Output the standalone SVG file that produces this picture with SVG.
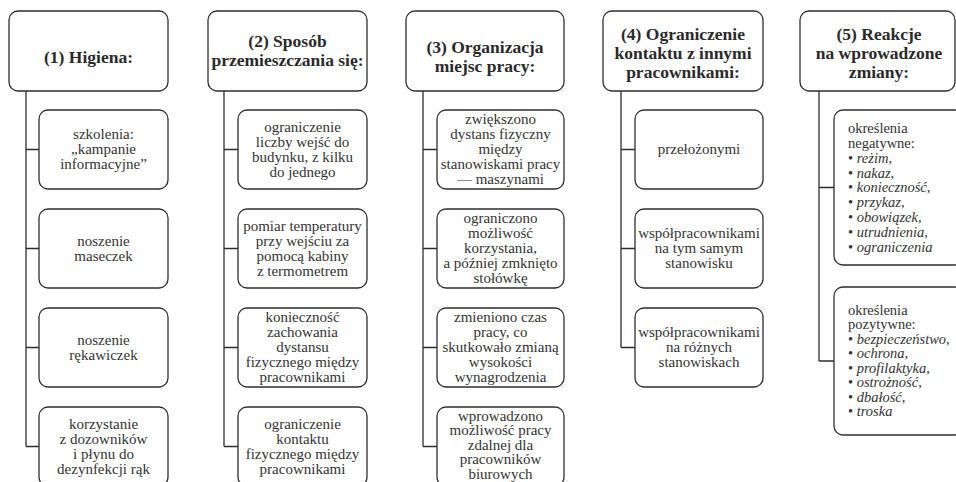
<svg xmlns="http://www.w3.org/2000/svg" width="956" height="482" viewBox="0 0 956 482">
<style>
.box{fill:#fff;stroke:#2e2e2e;stroke-width:1.3}
.conn{fill:none;stroke:#2e2e2e;stroke-width:1.3}
.h{font-family:"Liberation Serif","Times New Roman","DejaVu Serif",serif;font-weight:bold;font-size:17.5px;fill:#2a2a2a;text-anchor:middle}
.t{font-family:"Liberation Serif","Times New Roman","DejaVu Serif",serif;font-size:15px;fill:#333;text-anchor:middle}
.l{font-family:"Liberation Serif","Times New Roman","DejaVu Serif",serif;font-size:14.5px;fill:#333;text-anchor:start}
.i{font-style:italic}
</style>
<rect width="956" height="482" fill="#fff"/>
<g id="connectors">
<path class="conn" d="M26,91V446.5M26,149.5H39M26,248.5H39M26,347.5H39M26,446.5H39"/>
<path class="conn" d="M224,91V446.5M224,149.5H238M224,248.5H238M224,347.5H238M224,446.5H238"/>
<path class="conn" d="M423,91V446.5M423,149.5H437M423,248.5H437M423,347.5H437M423,446.5H437"/>
<path class="conn" d="M621,91V347.5M621,149.5H635M621,248.5H635M621,347.5H635"/>
<path class="conn" d="M819,91V361M819,187.5H834M819,361H834"/>
</g>
<g id="h1"><rect class="box" x="9" y="11" width="159" height="80" rx="9"/><text class="h" x="88.5" y="63">(1) Higiena:</text></g>
<g id="c1n1"><rect class="box" x="39" y="110" width="129" height="79" rx="9"/><text class="t"><tspan x="103.5" y="139">szkolenia:</tspan><tspan x="103.5" y="154">„kampanie</tspan><tspan x="103.5" y="169">informacyjne”</tspan></text></g>
<g id="c1n2"><rect class="box" x="39" y="209" width="129" height="79" rx="9"/><text class="t"><tspan x="103.5" y="245.5">noszenie</tspan><tspan x="103.5" y="260.5">maseczek</tspan></text></g>
<g id="c1n3"><rect class="box" x="39" y="308" width="129" height="79" rx="9"/><text class="t"><tspan x="103.5" y="344.5">noszenie</tspan><tspan x="103.5" y="359.5">rękawiczek</tspan></text></g>
<g id="c1n4"><rect class="box" x="39" y="407" width="129" height="79" rx="9"/><text class="t"><tspan x="103.5" y="428.5">korzystanie</tspan><tspan x="103.5" y="443.5">z dozowników</tspan><tspan x="103.5" y="458.5">i płynu do</tspan><tspan x="103.5" y="473.5">dezynfekcji rąk</tspan></text></g>

<g id="h2"><rect class="box" x="208" y="11" width="159" height="80" rx="9"/><text class="h"><tspan x="287.5" y="47">(2) Sposób</tspan><tspan x="287.5" y="66">przemieszczania się:</tspan></text></g>
<g id="c2n1"><rect class="box" x="238" y="110" width="129" height="79" rx="9"/><text class="t"><tspan x="302.5" y="131.5">ograniczenie</tspan><tspan x="302.5" y="146.5">liczby wejść do</tspan><tspan x="302.5" y="161.5">budynku, z kilku</tspan><tspan x="302.5" y="176.5">do jednego</tspan></text></g>
<g id="c2n2"><rect class="box" x="238" y="209" width="129" height="79" rx="9"/><text class="t"><tspan x="302.5" y="230.5">pomiar temperatury</tspan><tspan x="302.5" y="245.5">przy wejściu za</tspan><tspan x="302.5" y="260.5">pomocą kabiny</tspan><tspan x="302.5" y="275.5">z termometrem</tspan></text></g>
<g id="c2n3"><rect class="box" x="238" y="308" width="129" height="79" rx="9"/><text class="t"><tspan x="302.5" y="322">konieczność</tspan><tspan x="302.5" y="337">zachowania</tspan><tspan x="302.5" y="352">dystansu</tspan><tspan x="302.5" y="367">fizycznego między</tspan><tspan x="302.5" y="382">pracownikami</tspan></text></g>
<g id="c2n4"><rect class="box" x="238" y="407" width="129" height="79" rx="9"/><text class="t"><tspan x="302.5" y="428.5">ograniczenie</tspan><tspan x="302.5" y="443.5">kontaktu</tspan><tspan x="302.5" y="458.5">fizycznego między</tspan><tspan x="302.5" y="473.5">pracownikami</tspan></text></g>

<g id="h3"><rect class="box" x="406" y="11" width="158" height="80" rx="9"/><text class="h"><tspan x="485" y="52.5">(3) Organizacja</tspan><tspan x="485" y="71.5">miejsc pracy:</tspan></text></g>
<g id="c3n1"><rect class="box" x="437" y="110" width="127" height="79" rx="9"/><text class="t"><tspan x="500.5" y="124">zwiększono</tspan><tspan x="500.5" y="139">dystans fizyczny</tspan><tspan x="500.5" y="154">między</tspan><tspan x="500.5" y="169">stanowiskami pracy</tspan><tspan x="500.5" y="184">— maszynami</tspan></text></g>
<g id="c3n2"><rect class="box" x="437" y="209" width="127" height="79" rx="9"/><text class="t"><tspan x="500.5" y="223">ograniczono</tspan><tspan x="500.5" y="238">możliwość</tspan><tspan x="500.5" y="253">korzystania,</tspan><tspan x="500.5" y="268">a później zmknięto</tspan><tspan x="500.5" y="283">stołówkę</tspan></text></g>
<g id="c3n3"><rect class="box" x="437" y="308" width="127" height="79" rx="9"/><text class="t"><tspan x="500.5" y="322">zmieniono czas</tspan><tspan x="500.5" y="337">pracy, co</tspan><tspan x="500.5" y="352">skutkowało zmianą</tspan><tspan x="500.5" y="367">wysokości</tspan><tspan x="500.5" y="382">wynagrodzenia</tspan></text></g>
<g id="c3n4"><rect class="box" x="437" y="407" width="127" height="79" rx="9"/><text class="t"><tspan x="500.5" y="420.5">wprowadzono</tspan><tspan x="500.5" y="435">możliwość pracy</tspan><tspan x="500.5" y="449.5">zdalnej dla</tspan><tspan x="500.5" y="464">pracowników</tspan><tspan x="500.5" y="478.5">biurowych</tspan></text></g>

<g id="h4"><rect class="box" x="603" y="11" width="160" height="80" rx="9"/><text class="h"><tspan x="683" y="40">(4) Ograniczenie</tspan><tspan x="683" y="59">kontaktu z innymi</tspan><tspan x="683" y="78">pracownikami:</tspan></text></g>
<g id="c4n1"><rect class="box" x="635" y="110" width="128" height="79" rx="9"/><text class="t"><tspan x="699" y="154">przełożonymi</tspan></text></g>
<g id="c4n2"><rect class="box" x="635" y="209" width="128" height="79" rx="9"/><text class="t"><tspan x="699" y="238">współpracownikami</tspan><tspan x="699" y="253">na tym samym</tspan><tspan x="699" y="268">stanowisku</tspan></text></g>
<g id="c4n3"><rect class="box" x="635" y="308" width="128" height="79" rx="9"/><text class="t"><tspan x="699" y="337">współpracownikami</tspan><tspan x="699" y="352">na różnych</tspan><tspan x="699" y="367">stanowiskach</tspan></text></g>

<g id="h5"><rect class="box" x="800" y="11" width="155" height="80" rx="9"/><text class="h"><tspan x="879" y="39.5">(5) Reakcje</tspan><tspan x="879" y="58.5">na wprowadzone</tspan><tspan x="879" y="77.5">zmiany:</tspan></text></g>
<g id="c5n1"><rect class="box" x="834" y="110" width="130" height="155" rx="9"/><text class="l"><tspan x="848" y="133">określenia</tspan><tspan x="848" y="147.9">negatywne:</tspan><tspan x="848" y="162.7">• <tspan class="i">reżim,</tspan></tspan><tspan x="848" y="177.6">• <tspan class="i">nakaz,</tspan></tspan><tspan x="848" y="192.4">• <tspan class="i">konieczność,</tspan></tspan><tspan x="848" y="207.3">• <tspan class="i">przykaz,</tspan></tspan><tspan x="848" y="222.1">• <tspan class="i">obowiązek,</tspan></tspan><tspan x="848" y="237">• <tspan class="i">utrudnienia,</tspan></tspan><tspan x="848" y="251.8">• <tspan class="i">ograniczenia</tspan></tspan></text></g>
<g id="c5n2"><rect class="box" x="834" y="287" width="130" height="148" rx="9"/><text class="l"><tspan x="848" y="314.5">określenia</tspan><tspan x="848" y="329">pozytywne:</tspan><tspan x="848" y="343.5">• <tspan class="i">bezpieczeństwo,</tspan></tspan><tspan x="848" y="358">• <tspan class="i">ochrona,</tspan></tspan><tspan x="848" y="372.5">• <tspan class="i">profilaktyka,</tspan></tspan><tspan x="848" y="387">• <tspan class="i">ostrożność,</tspan></tspan><tspan x="848" y="401.5">• <tspan class="i">dbałość,</tspan></tspan><tspan x="848" y="416">• <tspan class="i">troska</tspan></tspan></text></g>
</svg>
